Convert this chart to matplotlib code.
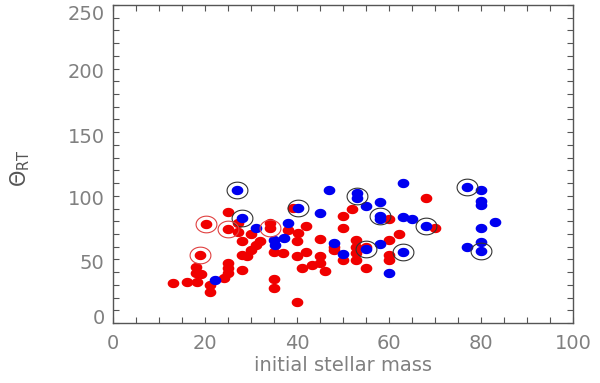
import numpy as np
import matplotlib
matplotlib.use("Agg")
import matplotlib.pyplot as plt
import matplotlib.transforms as mtransforms
from matplotlib.path import Path
from matplotlib.ticker import MultipleLocator

# ---- data ----
red_x = [13.1, 16.1, 18.2, 18.0, 18.1, 19.2, 19.0, 20.2, 21.0, 21.0, 24.1, 25.0, 25.0, 25.0,
         25.0, 24.9, 27.2, 27.2, 28.1, 28.1, 29.1, 28.1, 30.1, 30.1, 31.0, 31.9, 34.1, 34.1,
         35.0, 35.0, 35.0, 37.0, 38.1, 39.1, 40.2, 40.0, 40.0, 40.0, 41.0, 42.0, 42.0, 43.3,
         45.0, 45.0, 45.0, 46.0, 48.0, 48.0, 50.0, 50.0, 50.0, 52.0, 52.9, 52.9, 52.9, 52.9,
         55.1, 55.1, 60.1, 60.1, 60.1, 60.1, 62.2, 68.1, 69.9]
red_y = [31.7, 32.5, 32.5, 44.0, 39.5, 38.5, 53.5, 77.6, 29.9, 24.6, 35.6, 39.3, 43.0, 46.9,
         87.0, 73.9, 78.9, 71.8, 64.7, 53.5, 52.9, 41.7, 69.7, 57.4, 61.3, 64.7, 78.9, 74.4,
         34.6, 27.3, 56.0, 55.0, 73.1, 90.2, 70.5, 64.5, 52.9, 16.5, 43.5, 76.5, 55.6, 45.3,
         66.0, 52.9, 46.9, 40.9, 60.0, 57.4, 84.4, 74.4, 49.5, 89.6, 65.3, 60.0, 54.8, 49.5,
         60.0, 43.5, 81.8, 65.3, 53.5, 49.5, 69.8, 98.5, 74.4]

blue_x = [22.1, 27.0, 28.1, 31.0, 35.0, 35.3, 37.1, 38.1, 40.2, 45.1, 47.0, 48.0, 50.0, 53.1,
          53.1, 55.1, 55.1, 58.0, 58.0, 58.0, 58.0, 60.1, 63.1, 63.1, 63.1, 65.1, 68.1, 77.0,
          80.1, 80.1, 80.1, 83.1, 80.1, 80.1, 77.0, 80.1]
blue_y = [33.8, 104.6, 82.3, 74.4, 65.3, 61.3, 66.6, 78.4, 90.2, 86.7, 104.6, 62.7, 54.0, 102.0,
          98.0, 91.7, 58.2, 94.9, 84.4, 81.8, 61.9, 39.6, 109.8, 83.6, 55.6, 81.8, 76.5, 106.7,
          104.6, 95.9, 92.8, 79.6, 74.9, 63.4, 60.0, 56.6]

black_ring_x = [27.0, 28.1, 40.2, 53.1, 58.0, 55.1, 63.1, 68.1, 77.0, 80.1]
black_ring_y = [104.6, 82.3, 90.2, 100.0, 84.4, 58.2, 55.6, 76.5, 106.7, 56.6]
red_ring_x = [19.0, 20.2, 24.9, 34.1]
red_ring_y = [53.5, 77.6, 73.9, 74.4]

x_ticks = [0, 20, 40, 60, 80, 100]
y_ticks = [0, 50, 100, 150, 200, 250]
x_label = "initial stellar mass"
y_label = r"$\Theta_{\rm RT}$"

# ---- ellipse marker (slightly wider than tall) ----
t = np.linspace(0, 2 * np.pi, 60)
ell = Path(np.column_stack([np.cos(t), 0.8 * np.sin(t)]), closed=True)
ell_open = Path(np.column_stack([np.cos(t), 0.8 * np.sin(t)]))

fig = plt.figure(figsize=(6.0, 3.83), dpi=100)
ax = fig.add_axes([113 / 600, 1 - 323 / 383, 460 / 600, 318 / 383])

ax.plot(red_x, red_y, linestyle="none", marker=ell, ms=8.4, mfc="#f00000", mec="none")
ax.plot(blue_x, blue_y, linestyle="none", marker=ell, ms=8.4, mfc="#0000f0", mec="none")
ax.plot(black_ring_x, black_ring_y, linestyle="none", marker=ell_open, ms=15,
        mfc="none", mec="#333333", mew=0.8)
ax.plot(red_ring_x, red_ring_y, linestyle="none", marker=ell_open, ms=15,
        mfc="none", mec="#e04040", mew=0.8)

ax.set_xlim(0, 100)
ax.set_ylim(0, 250)
ax.set_xticks(x_ticks)
ax.set_yticks(y_ticks)
ax.xaxis.set_minor_locator(MultipleLocator(5))
ax.yaxis.set_minor_locator(MultipleLocator(10))
ax.tick_params(which="both", direction="in", top=True, right=True, length=4,
               width=0.8, color="#555555", labelsize=14, labelcolor="#808080")
ax.tick_params(axis="x", pad=8)
ax.tick_params(axis="y", pad=6)
for sp in ax.spines.values():
    sp.set_color("#555555")
    sp.set_linewidth(1.0)

# IDL-style label placement (pixel shifts; positive = downward)
label_shift_px = {0: -7, 50: 2.5, 100: 2, 150: 3, 200: 2, 250: 8}
fig.canvas.draw()
for lab, v in zip(ax.get_yticklabels(), y_ticks):
    dy = -label_shift_px[v] / 100.0
    lab.set_transform(lab.get_transform() +
                      mtransforms.ScaledTranslation(0, dy, fig.dpi_scale_trans))

ax.set_xlabel(x_label, fontsize=14, color="#808080", labelpad=2)
fig.text(20 / 600, 1 - 168 / 383, y_label, rotation=90, fontsize=15, color="#555555",
         ha="center", va="center")

fig.savefig("out.png", dpi=100)
